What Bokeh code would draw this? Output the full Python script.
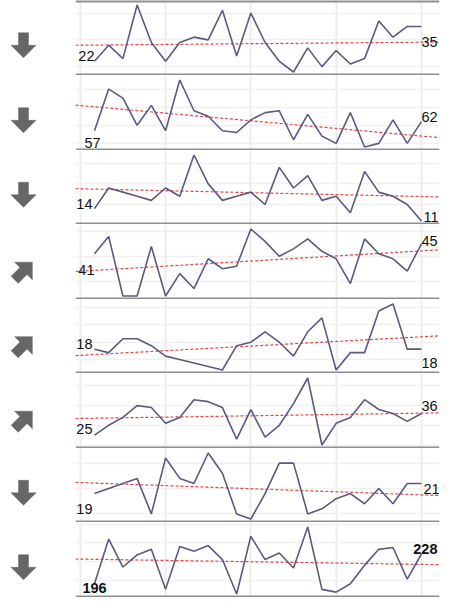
import numpy as np
from bokeh.plotting import figure
from bokeh.layouts import column, row
from bokeh.models import Range1d, FixedTicker, SingleIntervalTicker
from bokeh.core.properties import value
from bokeh.embed import file_html
from bokeh.resources import INLINE

periods = list(range(24))
s1 = [22, 28, 23, 43, 29, 22, 29, 31, 30, 41, 24, 40, 29, 22, 18, 27, 20, 26, 21, 23, 37, 31, 35, 35]
s2 = [57, 80, 75, 60, 71, 57, 85, 68, 65, 57, 56, 63, 67, 68, 52, 66, 54, 50, 67, 48, 50, 63, 50, 62]
s3 = [14, 19, 18, 17, 16, 19, 17, 27, 20, 16, 17, 18, 15, 24, 19, 22, 16, 17, 13, 23, 18, 17, 15, 11]
s4 = [41, 48, 24, 24, 44, 24, 33, 27, 39, 35, 36, 51, 46, 40, 43, 47, 42, 39, 29, 47, 41, 39, 34, 45]
s5 = [18, 17, 21, 21, 19, 16, 15, 14, 13, 12, 19, 20, 23, 20, 16, 23, 27, 12, 17, 17, 29, 31, 18, 18]
s6 = [25, 30, 34, 40, 39, 31, 34, 43, 42, 39, 23, 38, 24, 30, 41, 54, 20, 31, 34, 43, 38, 36, 32, 36]
s7 = [19, 20, 21, 22, 15, 26, 22, 21, 27, 23, 15, 14, 19, 25, 25, 15, 16, 18, 19, 17, 20, 17, 21, 21]
s8 = [196, 244, 214, 227, 233, 190, 236, 231, 237, 222, 185, 247, 222, 229, 213, 257, 190, 187, 196, 216, 233, 235, 201, 228]
series = [s1, s2, s3, s4, s5, s6, s7, s8]
trend_icons = ["down", "down", "down", "up", "up", "up", "down", "down"]
grid_steps = [10, 10, 5, 10, 5, 10, 5, 20]
bold_labels = [False, False, False, False, False, False, False, True]

# label placement styles (screen px)
start_align = ["right", "center", "right", "right", "right", "right", "right", "center"]
start_dx = [0, -2, -2, 0, -2, -2, -2, 0]
start_dy = [-5, 12, -5, 16, -5, -6, 15, 4]
end_align = ["left", "left", "left", "left", "left", "left", "left", "right"]
end_dx = [0, 0, 2, 0, 0, 0, 2, 16]
end_dy = [16, -5, -4, -3, 14, -7, 6, -5]

heights = [75, 75, 74, 75, 74, 75, 74, 75]
X0, X1 = -1.335, 24.27
LINE = "#5b5a7f"
TREND = "#e04545"
SEP = "#8f8f8f"
FONT = "Liberation Sans"

figs = []
for i, s in enumerate(series):
    h = heights[i]
    mn, mx = min(s), max(s)
    upp = (mx - mn) / (h - 8)
    lo, hi = mn - 3.5 * upp, mx + 4.5 * upp
    p = figure(width=370, height=h, x_range=Range1d(X0, X1), y_range=Range1d(lo, hi),
               output_backend="svg", toolbar_location=None,
               min_border_left=0, min_border_right=6, min_border_top=0, min_border_bottom=0)
    p.xaxis.visible = False
    p.yaxis.visible = False
    p.outline_line_color = None
    p.xgrid.ticker = FixedTicker(ticks=list(range(-1, 24, 6)))
    p.xgrid.grid_line_color = "#ececec"
    p.xgrid.grid_line_width = 2
    p.ygrid.ticker = SingleIntervalTicker(interval=grid_steps[i])
    p.ygrid.grid_line_color = "#f0f0f0"
    p.ygrid.grid_line_width = 1.5
    p.hspan(y=[lo], line_color=SEP, line_width=4)
    if i == 0:
        p.hspan(y=[hi], line_color=SEP, line_width=4)
    b, a = np.polyfit(periods, s, 1)
    p.line([X0, X1], [a + b * X0, a + b * X1], line_color=TREND, line_width=1.2, line_dash="3 2")
    p.line(periods, s, line_color=LINE, line_width=1.6)
    fs = "bold" if bold_labels[i] else "normal"
    p.text(x=[periods[0]], y=[s[0]], text=[str(s[0])], text_align=start_align[i],
           text_baseline="alphabetic", x_offset=start_dx[i], y_offset=start_dy[i],
           text_font=value(FONT), text_font_size="14.5px", text_font_style=fs, text_color="#111111")
    p.text(x=[periods[-1]], y=[s[-1]], text=[str(s[-1])], text_align=end_align[i],
           text_baseline="alphabetic", x_offset=end_dx[i], y_offset=end_dy[i],
           text_font=value(FONT), text_font_size="14.5px", text_font_style=fs, text_color="#111111")
    figs.append(p)

# arrow icons column (figure units = pixels, y pointing down)
total_h = sum(heights)
af = figure(width=75, height=total_h, x_range=Range1d(0, 75), y_range=Range1d(total_h, 0),
            output_backend="svg", toolbar_location=None,
            min_border_left=0, min_border_right=0, min_border_top=0, min_border_bottom=0)
af.xaxis.visible = False
af.yaxis.visible = False
af.xgrid.visible = False
af.ygrid.visible = False
af.outline_line_color = None

shape = [(-5, -12.5), (5, -12.5), (5, 0), (12.5, 0), (0, 12.5), (-12.5, 0), (-5, 0)]
r2 = 1 / np.sqrt(2)
directions = {"down": (0.0, 1.0, 7.3), "up": (r2, -r2, 9.0)}
xs_all, ys_all = [], []
acc = 0
for h, icon in zip(heights, trend_icons):
    dx, dy, drop = directions[icon]
    px, py = -dy, dx
    cx, cy = 23.0, acc + h / 2 + drop
    xs_all.append([cx + u * px + v * dx for u, v in shape])
    ys_all.append([cy + u * py + v * dy for u, v in shape])
    acc += h
af.patches(xs_all, ys_all, fill_color="#666666", line_color="#666666", line_width=0.5)

layout = row(af, column(*figs, spacing=0), spacing=0)
open("out.html", "w").write(file_html(layout, INLINE))
